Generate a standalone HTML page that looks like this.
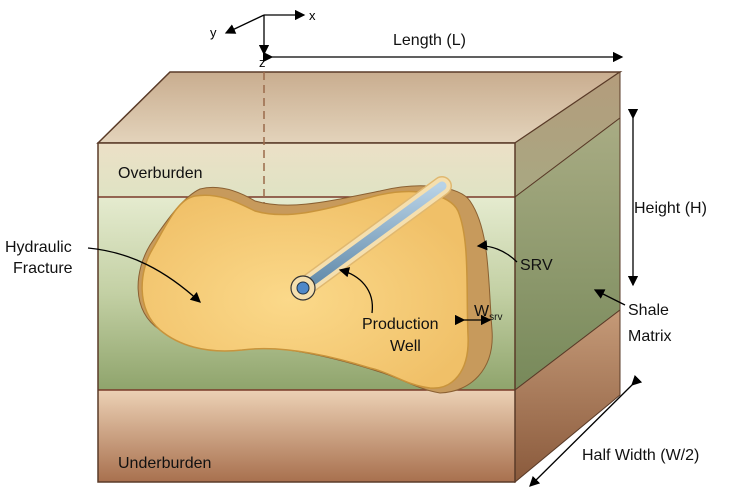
<!DOCTYPE html>
<html><head><meta charset="utf-8"><style>
html,body{margin:0;padding:0;background:#fff;}
svg{display:block;font-family:"Liberation Sans",sans-serif;}
</style></head><body>
<svg width="750" height="502" viewBox="0 0 750 502">
<defs>
<linearGradient id="gTop" x1="0" y1="0" x2="0" y2="1"><stop offset="0" stop-color="#c9ad8f"/><stop offset="1" stop-color="#e3d3bb"/></linearGradient>
<linearGradient id="gOver" x1="0" y1="0" x2="0" y2="1"><stop offset="0" stop-color="#ece0c6"/><stop offset="1" stop-color="#dfe3c4"/></linearGradient>
<linearGradient id="gMid" x1="0" y1="0" x2="0" y2="1"><stop offset="0" stop-color="#e5ebcf"/><stop offset="0.5" stop-color="#c3d0a4"/><stop offset="1" stop-color="#8fa46c"/></linearGradient>
<linearGradient id="gUnder" x1="0" y1="0" x2="0" y2="1"><stop offset="0" stop-color="#ecd1b5"/><stop offset="1" stop-color="#a8704e"/></linearGradient>
<linearGradient id="gRightOver" x1="0" y1="0" x2="0" y2="1"><stop offset="0" stop-color="#b49c7c"/><stop offset="1" stop-color="#a8a882"/></linearGradient>
<linearGradient id="gRightMid" x1="0" y1="0" x2="0" y2="1"><stop offset="0" stop-color="#a9ac84"/><stop offset="1" stop-color="#77895a"/></linearGradient>
<linearGradient id="gRightUnder" x1="0" y1="0" x2="0" y2="1"><stop offset="0" stop-color="#c59a78"/><stop offset="1" stop-color="#8a5a3c"/></linearGradient>
<radialGradient id="gFrac" cx="0.45" cy="0.55" r="0.6"><stop offset="0" stop-color="#fbd98a"/><stop offset="1" stop-color="#f0c068"/></radialGradient>
<linearGradient id="gWell" x1="0" y1="0" x2="0" y2="1"><stop offset="0" stop-color="#b8d2e6"/><stop offset="1" stop-color="#5f88a8"/></linearGradient>
<marker id="ah" markerWidth="8" markerHeight="8" refX="7" refY="4" orient="auto"><path d="M0,0 L8,4 L0,8 z" fill="#000"/></marker>
</defs>

<polygon points="98,143 170,72 620,72 515,143" fill="url(#gTop)" stroke="#5a3b28" stroke-width="1.5"/>
<polygon points="515,143 620,72 620,118 515,197" fill="url(#gRightOver)" stroke="#5a3b28" stroke-width="1"/>
<polygon points="515,197 620,118 620,310 515,390" fill="url(#gRightMid)" stroke="#5a3b28" stroke-width="1"/>
<polygon points="515,390 620,310 620,395 515,482" fill="url(#gRightUnder)" stroke="#5a3b28" stroke-width="1"/>
<rect x="98" y="143" width="417" height="54" fill="url(#gOver)"/>
<rect x="98" y="197" width="417" height="193" fill="url(#gMid)"/>
<rect x="98" y="390" width="417" height="92" fill="url(#gUnder)"/>
<line x1="98" y1="197" x2="515" y2="197" stroke="#7a3a2a" stroke-width="1.5"/>
<line x1="98" y1="390" x2="515" y2="390" stroke="#7a3a2a" stroke-width="1.5"/>
<rect x="98" y="143" width="417" height="339" fill="none" stroke="#5a3b28" stroke-width="1.5"/>
<line x1="264" y1="72" x2="264" y2="205" stroke="#9a6a4a" stroke-width="1.5" stroke-dasharray="8,5"/>

<path d="M200,189 C220,184 240,192 255,201 C290,211 330,201 380,191 C420,181 460,186 470,201 C490,230 488,280 492,330 C495,370 470,392 440,393 C420,390 400,378 380,372 C330,356 280,345 240,348 C210,350 180,345 160,330 C130,310 135,270 150,245 C170,215 185,196 200,189 Z" fill="#c79a5c" stroke="#8a6032" stroke-width="1"/>
<path d="M195,196 C220,192 240,204 255,211 C290,221 330,208 375,196 C415,186 450,194 458,211 C470,240 466,290 468,335 C470,372 452,390 430,388 C405,385 390,372 370,368 C325,354 280,345 242,350 C205,354 178,345 160,330 C135,308 140,270 152,250 C168,222 178,199 195,196 Z" fill="url(#gFrac)" stroke="#c8943c" stroke-width="1.5"/>
<line x1="303" y1="288" x2="442" y2="186" stroke="#e0b870" stroke-width="20" stroke-linecap="round"/>
<line x1="303" y1="288" x2="442" y2="186" stroke="#f5dfae" stroke-width="17" stroke-linecap="round"/>
<line x1="303" y1="288" x2="442" y2="186" stroke="url(#gWell)" stroke-width="9" stroke-linecap="round"/>
<circle cx="303" cy="288" r="12" fill="#f5dfae" stroke="#333" stroke-width="1.2"/>
<circle cx="303" cy="288" r="6" fill="#4f88c8" stroke="#234" stroke-width="1"/>

<g stroke="#000" stroke-width="1.3">
<line x1="264" y1="15" x2="304" y2="15" marker-end="url(#ah)"/>
<line x1="264" y1="15" x2="226" y2="33" marker-end="url(#ah)"/>
<line x1="264" y1="15" x2="264" y2="54" marker-end="url(#ah)"/>
</g>
<text x="309" y="20" font-size="13">x</text>
<text x="210" y="37" font-size="13">y</text>
<text x="259" y="67" font-size="13">z</text>

<g stroke="#000" stroke-width="1.3" fill="none">
<line x1="272" y1="57" x2="622" y2="57" marker-end="url(#ah)" marker-start="url(#ah)"/>
<line x1="633" y1="118" x2="633" y2="285" marker-end="url(#ah)" marker-start="url(#ah)"/>
<line x1="632" y1="385" x2="530" y2="486" marker-end="url(#ah)" marker-start="url(#ah)"/>
<line x1="464" y1="320" x2="490" y2="320" marker-end="url(#ah)" marker-start="url(#ah)"/>
<path d="M88,248 C130,252 165,270 200,302" marker-end="url(#ah)"/>
<path d="M372,313 C375,290 360,275 340,270" marker-end="url(#ah)"/>
<path d="M517,262 C505,250 490,245 478,246" marker-end="url(#ah)"/>
<path d="M625,305 C615,300 605,295 595,290" marker-end="url(#ah)"/>
</g>

<g font-size="16" fill="#111">
<text x="393" y="45">Length (L)</text>
<text x="118" y="178">Overburden</text>
<text x="118" y="468">Underburden</text>
<text x="5" y="252">Hydraulic</text>
<text x="13" y="273">Fracture</text>
<text x="362" y="329">Production</text>
<text x="390" y="351">Well</text>
<text x="520" y="270">SRV</text>
<text x="474" y="316">W<tspan font-size="10" dy="4">srv</tspan></text>
<text x="634" y="213">Height (H)</text>
<text x="628" y="315">Shale</text>
<text x="628" y="341">Matrix</text>
<text x="582" y="460">Half Width (W/2)</text>
</g>
</svg>
</body></html>
